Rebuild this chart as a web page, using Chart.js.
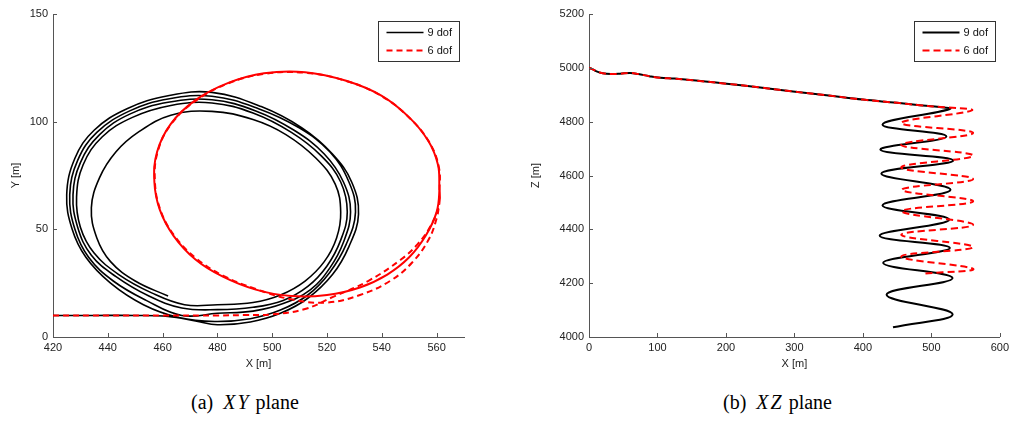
<!DOCTYPE html>
<html>
<head>
<meta charset="utf-8">
<script src="https://cdn.jsdelivr.net/npm/chart.js@4/dist/chart.umd.min.js"></script>
<style>
  body { margin: 0; background: #fff; width: 1013px; height: 423px; position: relative; overflow: hidden; }
  .chart_box { position: absolute; top: 0; height: 371px; }
  .caption { position: absolute; top: 391px; font-family: "Liberation Serif", serif; font-size: 20px; color: #000; white-space: nowrap; }
  .caption i { letter-spacing: 2px; }
</style>
</head>
<body>
<div class="chart_box" style="left:0; width:480px;"><canvas id="xy_chart"></canvas></div>
<div class="chart_box" style="left:520px; width:493px;"><canvas id="xz_chart"></canvas></div>
<div class="caption" style="left:191px;">(a)&nbsp; <i>XY</i> plane</div>
<div class="caption" style="left:723px;">(b)&nbsp; <i>XZ</i> plane</div>
<script>
const series_labels = ['9 dof', '6 dof'];

// XY plane, 9 dof: entry along y = 10, then five loops shrinking inwards
const xy_9dof = [
  [420,10],[435,10],[450,10],[462,9.5],[472,7.5],
  [480,5.7],[492,7],[503,11],[513,18],[522,29],[528,42],[531.5,57],[529,72],[522,85],[511,97],[496,107],[478,113.6],[462,112],[447,106],[435,96],[428,83],[425,66],[427,50],[432,37],[441,25],[453,15],[466,9],
  [479,7.2],[492,8.5],[503,12.5],[513,19.5],[521,30],[527,43],[530.4,58],[528,72],[521,86],[510,97],[495,106],[478,111.8],[462,110.5],[448,105],[436,95],[429,82],[426.1,66],[428,50],[433,37],[442,26],[454,17],[467,10],
  [480,11],[493,12],[504,15.5],[514,22],[521,32],[526,44],[528.6,58],[526,72],[519,85],[508,96],[494,105],[478,110.2],[462,109],[448,103.5],[437,94],[430,81],[427.3,66],[429,51],[434,38],[443,28],[455,19],[467,13.5],
  [480,12.7],[493,13.8],[504,17],[513,23.5],[520,33],[525,45],[527.4,58],[525,72],[518,84],[507,95],[493,104],[478,108.7],[463,107.5],[449,102],[438,93],[431,80],[428.6,65],[430,51],[435,39],[444,29],[456,20.5],[468,15],
  [480,15],[493,16],[503,19.5],[512,26],[519,35],[523.5,46],[525,58],[523,71],[516,83],[505,94],[493,101],[478,104.8],[463,103],[451,95],[443,86],[437,74],[434,60],[436,46],[441,35],[450,26],[462,19]
];

// XY plane, 6 dof: entry, first circle, second circle
const xy_6dof_entry = [
  [420,10],[440,10],[460,10],[480,10],[490,10.2],[500,10.5],[512,13],[522,18.5],[535,26],[547,36],[553,43],[558,52],[561,62]
];
const xy_6dof_circle_1 = [
  [561,70],[560.5,80],[557,91],[550,102],[540,112],[527,119],[512,123],[497,122.5],[484,118],[472,110],[463,99],[458,86],[457,72],[459,59],[464,47],[472,36],[482,28],[494,22],[507,19],[520,19.5],[532,23],[542,29],[550,37],[556,47],[560,58],[561,68]
];
const xy_6dof_circle_2 = [
  [560.8,79],[557.3,90.5],[550.3,101.5],[540.3,111.6],[527.3,118.8],[512,122.7],[497,122.2],[484,117.8],[472.2,109.8],[463.2,99],[458.2,86],[457.2,72],[459.2,59],[464.3,47],[472.3,36.5],[482,28.5],[494,22.3],[507,17.5],[520,16],[532,19.5],[543,26],[551,34.5],[557,45],[560,55],[561,62]
];

// XZ plane: common descent, then oscillations
const xz_descent = [
  [0,5000],[5,4995],[11,4987],[20,4980],[32,4977],[45,4978],[60,4981],[72,4977],[88,4969],[104,4963],[125,4960],[143,4956],[170,4949],[201,4941],[250,4927],[298,4912],[350,4897],[400,4882],[450,4870],[483,4861],[505,4856]
];
const xz_9dof_turns = [
  [527,4847],[428.7,4789],[522,4745],[425.6,4696],[532,4656],[427,4607],[528,4547],[428.7,4489],[526,4436],[424.5,4376],[527,4331],[429.6,4275],[531,4219],[434.6,4157],[531,4085],[444,4036]
];
const xz_6dof_turns = [
  [559,4842],[456,4795],[561,4758],[456,4714],[561,4674],[456,4630],[561,4587],[457,4547],[561,4504],[457,4467],[561,4417],[456,4380],[561,4334],[456,4299],[561,4253],[491,4236]
];

const xy_x_range = [420, 570], xy_y_range = [0, 150];
const xz_x_range = [0, 600], xz_z_range = [4000, 5200];

function to_points (pairs) {
  return pairs.map(p => ({ x: p[0], y: p[1] }));
}

const tick_font = { family: '"Liberation Sans", Arial, sans-serif', size: 11 };

const inner_ticks_plugin = {
  id: 'inner_ticks',
  afterDraw (chart) {
    const ctx = chart.ctx;
    const area = chart.chartArea;
    const x_scale = chart.scales.x;
    const y_scale = chart.scales.y;
    ctx.save();
    ctx.strokeStyle = '#555';
    ctx.lineWidth = 1;
    ctx.beginPath();
    x_scale.ticks.forEach(t => {
      const px = Math.round(x_scale.getPixelForValue(t.value)) + 0.5;
      ctx.moveTo(px, area.bottom);
      ctx.lineTo(px, area.bottom - 4);
    });
    y_scale.ticks.forEach(t => {
      const py = Math.round(y_scale.getPixelForValue(t.value)) + 0.5;
      ctx.moveTo(area.left, py);
      ctx.lineTo(area.left + 4, py);
    });
    ctx.stroke();
    ctx.restore();
  }
};

const legend_box_plugin = {
  id: 'legend_box',
  afterDraw (chart) {
    const ctx = chart.ctx;
    const area = chart.chartArea;
    const box_w = 81, box_h = 40;
    const x0 = Math.round(area.right - 5 - box_w) + 0.5;
    const y0 = Math.round(area.top + 7) + 0.5;
    ctx.save();
    ctx.fillStyle = '#fff';
    ctx.fillRect(x0, y0, box_w, box_h);
    ctx.strokeStyle = '#333';
    ctx.lineWidth = 1;
    ctx.strokeRect(x0, y0, box_w, box_h);
    chart.data.datasets.forEach((ds, i) => {
      const y = y0 + 11 + i * 18;
      ctx.strokeStyle = ds.borderColor;
      ctx.lineWidth = ds.borderWidth;
      ctx.setLineDash(ds.borderDash || []);
      ctx.beginPath();
      ctx.moveTo(x0 + 8, y);
      ctx.lineTo(x0 + 45, y);
      ctx.stroke();
      ctx.setLineDash([]);
      ctx.fillStyle = '#111';
      ctx.font = '11px "Liberation Sans", Arial, sans-serif';
      ctx.textBaseline = 'middle';
      ctx.fillText(ds.label, x0 + 49, y + 0.5);
    });
    ctx.restore();
  }
};

function get_scales (x_range, x_step, x_title, y_range, y_step, y_title, y_width) {
  return {
    x: {
      type: 'linear',
      min: x_range[0],
      max: x_range[1],
      grid: { display: false, drawTicks: false },
      border: { display: true, color: '#555', width: 1 },
      ticks: { stepSize: x_step, includeBounds: false, font: tick_font, color: '#222', padding: 4, maxRotation: 0, callback: v => v },
      title: { display: true, text: x_title, font: tick_font, color: '#222', padding: { top: 2, bottom: 0 } },
      afterFit: s => { s.height = 34; }
    },
    y: {
      type: 'linear',
      min: y_range[0],
      max: y_range[1],
      grid: { display: false, drawTicks: false },
      border: { display: true, color: '#555', width: 1 },
      ticks: { stepSize: y_step, includeBounds: false, font: tick_font, color: '#222', padding: 5, callback: v => v },
      title: { display: true, text: y_title, font: tick_font, color: '#222', padding: { top: 9, bottom: 0 } },
      afterFit: s => { s.width = y_width; }
    }
  };
}

const common_options = {
  responsive: true,
  maintainAspectRatio: false,
  animation: false,
  events: [],
  elements: { point: { radius: 0 }, line: { tension: 0.4 } },
  plugins: { legend: { display: false }, tooltip: { enabled: false } }
};

// XY plane chart
const red_entry_end = xy_6dof_entry.length - 1;
const red_second_start = xy_6dof_entry.length + xy_6dof_circle_1.length - 1;

new Chart(document.getElementById('xy_chart'), {
  type: 'line',
  data: {
    datasets: [{
      label: series_labels[0],
      data: to_points(xy_9dof),
      borderColor: '#000',
      borderWidth: 1.6,
      order: 1
    }, {
      label: series_labels[1],
      data: to_points(xy_6dof_entry.concat(xy_6dof_circle_1, xy_6dof_circle_2)),
      borderColor: '#ff0000',
      borderWidth: 2,
      borderDash: [6, 4],
      order: 0,
      segment: {
        borderDash: ctx => (ctx.p0DataIndex < red_entry_end || ctx.p0DataIndex >= red_second_start) ? [6, 4] : []
      }
    }]
  },
  options: Object.assign({}, common_options, {
    layout: { padding: { top: 14, right: 16, left: 0, bottom: 0 } },
    scales: get_scales(xy_x_range, 20, 'X [m]', xy_y_range, 50, 'Y [m]', 53)
  }),
  plugins: [inner_ticks_plugin, legend_box_plugin]
});

// XZ plane chart
new Chart(document.getElementById('xz_chart'), {
  type: 'line',
  data: {
    datasets: [{
      label: series_labels[0],
      data: to_points(xz_descent.concat(xz_9dof_turns)),
      borderColor: '#000',
      borderWidth: 2,
      order: 1
    }, {
      label: series_labels[1],
      data: to_points(xz_descent.concat(xz_6dof_turns)),
      borderColor: '#ff0000',
      borderWidth: 2,
      borderDash: [7, 4],
      order: 0
    }]
  },
  options: Object.assign({}, common_options, {
    layout: { padding: { top: 14, right: 13, left: 0, bottom: 0 } },
    scales: get_scales(xz_x_range, 100, 'X [m]', xz_z_range, 200, 'Z [m]', 69)
  }),
  plugins: [inner_ticks_plugin, legend_box_plugin]
});
</script>
</body>
</html>
